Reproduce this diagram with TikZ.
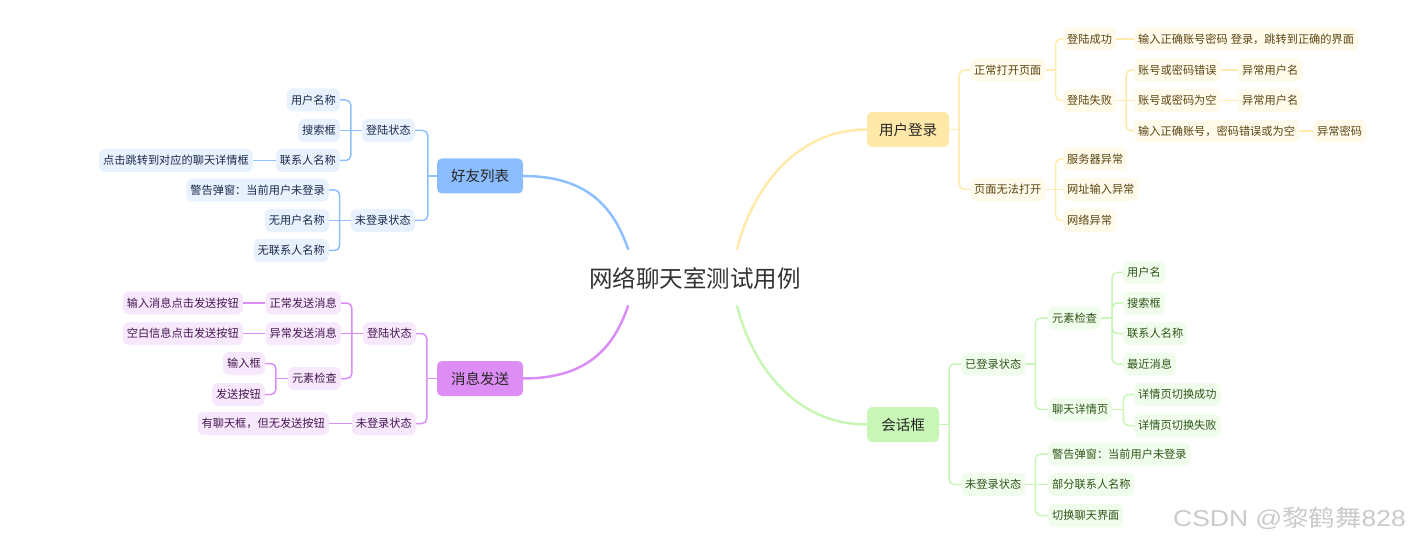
\documentclass[tikz,border=0pt]{standalone}
\usepackage{fontspec}
\setmainfont{Noto Sans CJK SC}
\newfontfamily\wmlat{Liberation Sans}
\definecolor{bMain}{HTML}{8BBDFF}
\definecolor{bLeaf}{HTML}{E8F2FF}
\definecolor{bLine}{HTML}{8EC0FF}
\definecolor{bText}{HTML}{1C2A4A}
\definecolor{pMain}{HTML}{DC8EF4}
\definecolor{pLeaf}{HTML}{F8E8FD}
\definecolor{pLine}{HTML}{D98DF5}
\definecolor{pText}{HTML}{44184F}
\definecolor{yMain}{HTML}{FFE8A8}
\definecolor{yLeaf}{HTML}{FFFAEA}
\definecolor{yLine}{HTML}{FFEAAC}
\definecolor{yText}{HTML}{5A4614}
\definecolor{gMain}{HTML}{C8F6B6}
\definecolor{gLeaf}{HTML}{F1FDEC}
\definecolor{gLine}{HTML}{C8F6B5}
\definecolor{gText}{HTML}{2E5418}
\definecolor{titleText}{HTML}{333333}
\definecolor{wmText}{HTML}{CACACA}
\tikzset{
  leafbox/.style={rounded corners=6pt, inner xsep=4pt, inner ysep=0pt, minimum height=23pt, font=\fontsize{11.2}{13}\selectfont},
  leafB/.style={leafbox, fill=bLeaf, text=bText},
  leafP/.style={leafbox, fill=pLeaf, text=pText},
  leafY/.style={leafbox, fill=yLeaf, text=yText},
  leafG/.style={leafbox, fill=gLeaf, text=gText},
  mainbox/.style={rounded corners=5pt, inner sep=0pt, minimum height=35pt, text=black!85, font=\fontsize{14.5}{17}\selectfont},
  mainB/.style={mainbox, fill=bMain, minimum width=86pt},
  mainP/.style={mainbox, fill=pMain, minimum width=86pt},
  mainY/.style={mainbox, fill=yMain, minimum width=82pt},
  mainG/.style={mainbox, fill=gMain, minimum width=72pt},
  brB/.style={draw=bLine, line width=1.5pt, rounded corners=5pt},
  brP/.style={draw=pLine, line width=1.5pt, rounded corners=5pt},
  brY/.style={draw=yLine, line width=1.5pt, rounded corners=5pt},
  brG/.style={draw=gLine, line width=1.5pt, rounded corners=5pt},
  branch/.style={line width=2.5pt, line cap=round},
}
\begin{document}
\begin{tikzpicture}[x=1pt,y=-1pt]
\useasboundingbox (0,0) rectangle (1410,545);

% centre
\node[inner sep=0pt, text=titleText, font=\fontsize{23.5}{28}\selectfont] (c) at (695,278) {网络聊天室测试用例};
\coordinate (cB) at (628,249);
\coordinate (cP) at (628,306);
\coordinate (cY) at (737,249);
\coordinate (cG) at (737,306);

% ===== blue: 好友列表 =====
\node[mainB] (hy) at (480,176) {好友列表};
\node[leafB,anchor=east] (hy1) at (415,130.5) {登陆状态};
\node[leafB,anchor=east] (hy2) at (415,220.5) {未登录状态};
\node[leafB,anchor=east] (hy11) at (340,100) {用户名称};
\node[leafB,anchor=east] (hy12) at (340,130.5) {搜索框};
\node[leafB,anchor=east] (hy13) at (340,160.5) {联系人名称};
\node[leafB,anchor=east] (hy131) at (253,160.5) {点击跳转到对应的聊天详情框};
\node[leafB,anchor=east] (hy21) at (329,190) {警告弹窗：当前用户未登录};
\node[leafB,anchor=east] (hy22) at (329,220.5) {无用户名称};
\node[leafB,anchor=east] (hy23) at (329,250.5) {无联系人名称};

\draw[bLine,branch] (cB) .. controls (614,208) and (588,176) .. (hy.east);
\draw[brB] (hy.west) -- ++(-9,0) coordinate (hyb);
\draw[brB] (hyb) |- (hy1.east);
\draw[brB] (hyb) |- (hy2.east);
\draw[brB] (hy1.west) -- ++(-11,0) coordinate (hy1b);
\draw[brB] (hy1b) |- (hy11.east);
\draw[brB] (hy1b) |- (hy13.east);
\draw[brB] (hy1b) -- (hy12.east);
\draw[brB] (hy13.west) -- (hy131.east);
\draw[brB] (hy2.west) -- ++(-11,0) coordinate (hy2b);
\draw[brB] (hy2b) |- (hy21.east);
\draw[brB] (hy2b) |- (hy23.east);
\draw[brB] (hy2b) -- (hy22.east);

% ===== purple: 消息发送 =====
\node[mainP] (xx) at (480,378.5) {消息发送};
\node[leafP,anchor=east] (xx1) at (416,333.5) {登陆状态};
\node[leafP,anchor=east] (xx2) at (416,423.5) {未登录状态};
\node[leafP,anchor=east] (xx11) at (341,303) {正常发送消息};
\node[leafP,anchor=east] (xx12) at (341,333.5) {异常发送消息};
\node[leafP,anchor=east] (xx13) at (341,378.5) {元素检查};
\node[leafP,anchor=east] (xx111) at (243,303) {输入消息点击发送按钮};
\node[leafP,anchor=east] (xx121) at (243,333.5) {空白信息点击发送按钮};
\node[leafP,anchor=east] (xx131) at (265,363.5) {输入框};
\node[leafP,anchor=east] (xx132) at (265,394.5) {发送按钮};
\node[leafP,anchor=east] (xx21) at (329,423.5) {有聊天框，但无发送按钮};

\draw[pLine,branch] (cP) .. controls (614,347) and (588,378.5) .. (xx.east);
\draw[brP] (xx.west) -- ++(-10,0) coordinate (xxb);
\draw[brP] (xxb) |- (xx1.east);
\draw[brP] (xxb) |- (xx2.east);
\draw[brP] (xx1.west) -- ++(-11,0) coordinate (xx1b);
\draw[brP] (xx1b) |- (xx11.east);
\draw[brP] (xx1b) |- (xx13.east);
\draw[brP] (xx1b) -- (xx12.east);
\draw[brP] (xx11.west) -- (xx111.east);
\draw[brP] (xx12.west) -- (xx121.east);
\draw[brP] (xx13.west) -- ++(-12,0) coordinate (xx13b);
\draw[brP] (xx13b) |- (xx131.east);
\draw[brP] (xx13b) |- (xx132.east);
\draw[brP] (xx2.west) -- (xx21.east);

% ===== yellow: 用户登录 =====
\node[mainY] (yh) at (908,129.5) {用户登录};
\node[leafY,anchor=west] (yh1) at (970,70) {正常打开页面};
\node[leafY,anchor=west] (yh2) at (970,189.5) {页面无法打开};
\node[leafY,anchor=west] (yh11) at (1063,39) {登陆成功};
\node[leafY,anchor=west] (yh12) at (1063,100.5) {登陆失败};
\node[leafY,anchor=west] (yh111) at (1134,39) {输入正确账号密码\hspace{3pt}登录，跳转到正确的界面};
\node[leafY,anchor=west] (yh121) at (1134,70) {账号或密码错误};
\node[leafY,anchor=west] (yh122) at (1134,100.5) {账号或密码为空};
\node[leafY,anchor=west] (yh123) at (1134,131) {输入正确账号，密码错误或为空};
\node[leafY,anchor=west] (yh1211) at (1238,70) {异常用户名};
\node[leafY,anchor=west] (yh1221) at (1238,100.5) {异常用户名};
\node[leafY,anchor=west] (yh1231) at (1313,131) {异常密码};
\node[leafY,anchor=west] (yh21) at (1063,159) {服务器异常};
\node[leafY,anchor=west] (yh22) at (1063,189.5) {网址输入异常};
\node[leafY,anchor=west] (yh23) at (1063,220.5) {网络异常};

\draw[yLine,branch] (cY) .. controls (752,190) and (795,129.5) .. (yh.west);
\draw[brY] (yh.east) -- ++(10,0) coordinate (yhb);
\draw[brY] (yhb) |- (yh1.west);
\draw[brY] (yhb) |- (yh2.west);
\draw[brY] (yh1.east) -- ++(10,0) coordinate (yh1b);
\draw[brY] (yh1b) |- (yh11.west);
\draw[brY] (yh1b) |- (yh12.west);
\draw[brY] (yh11.east) -- (yh111.west);
\draw[brY] (yh12.east) -- ++(10,0) coordinate (yh12b);
\draw[brY] (yh12b) |- (yh121.west);
\draw[brY] (yh12b) |- (yh123.west);
\draw[brY] (yh12b) -- (yh122.west);
\draw[brY] (yh121.east) -- (yh1211.west);
\draw[brY] (yh122.east) -- (yh1221.west);
\draw[brY] (yh123.east) -- (yh1231.west);
\draw[brY] (yh2.east) -- ++(10,0) coordinate (yh2b);
\draw[brY] (yh2b) |- (yh21.west);
\draw[brY] (yh2b) |- (yh23.west);
\draw[brY] (yh2b) -- (yh22.west);

% ===== green: 会话框 =====
\node[mainG] (hh) at (903,424.5) {会话框};
\node[leafG,anchor=west] (hh1) at (961,364) {已登录状态};
\node[leafG,anchor=west] (hh2) at (961,484.5) {未登录状态};
\node[leafG,anchor=west] (hh11) at (1048,318) {元素检查};
\node[leafG,anchor=west] (hh12) at (1048,409.5) {聊天详情页};
\node[leafG,anchor=west] (hh111) at (1123,272.5) {用户名};
\node[leafG,anchor=west] (hh112) at (1123,303) {搜索框};
\node[leafG,anchor=west] (hh113) at (1123,333.5) {联系人名称};
\node[leafG,anchor=west] (hh114) at (1123,364) {最近消息};
\node[leafG,anchor=west] (hh121) at (1134,394.5) {详情页切换成功};
\node[leafG,anchor=west] (hh122) at (1134,425.5) {详情页切换失败};
\node[leafG,anchor=west] (hh21) at (1048,454) {警告弹窗：当前用户未登录};
\node[leafG,anchor=west] (hh22) at (1048,484.5) {部分联系人名称};
\node[leafG,anchor=west] (hh23) at (1048,515.5) {切换聊天界面};

\draw[gLine,branch] (cG) .. controls (752,365) and (795,424.5) .. (hh.west);
\draw[brG] (hh.east) -- ++(10,0) coordinate (hhb);
\draw[brG] (hhb) |- (hh1.west);
\draw[brG] (hhb) |- (hh2.west);
\draw[brG] (hh1.east) -- ++(10,0) coordinate (hh1b);
\draw[brG] (hh1b) |- (hh11.west);
\draw[brG] (hh1b) |- (hh12.west);
\draw[brG] (hh11.east) -- ++(11,0) coordinate (hh11b);
\draw[brG] (hh11b) |- (hh111.west);
\draw[brG] (hh11b) |- (hh112.west);
\draw[brG] (hh11b) |- (hh113.west);
\draw[brG] (hh11b) |- (hh114.west);
\draw[brG] (hh12.east) -- ++(11,0) coordinate (hh12b);
\draw[brG] (hh12b) |- (hh121.west);
\draw[brG] (hh12b) |- (hh122.west);
\draw[brG] (hh2.east) -- ++(10,0) coordinate (hh2b);
\draw[brG] (hh2b) |- (hh21.west);
\draw[brG] (hh2b) |- (hh23.west);
\draw[brG] (hh2b) -- (hh22.west);

% watermark
\node[anchor=west, inner sep=0pt, text=wmText, font=\fontsize{23}{26}\selectfont] (wm) at (1173,518) {\scalebox{1.15}[1]{{\wmlat CSDN @}黎鹤舞{\wmlat 828}}};
\end{tikzpicture}
\end{document}
